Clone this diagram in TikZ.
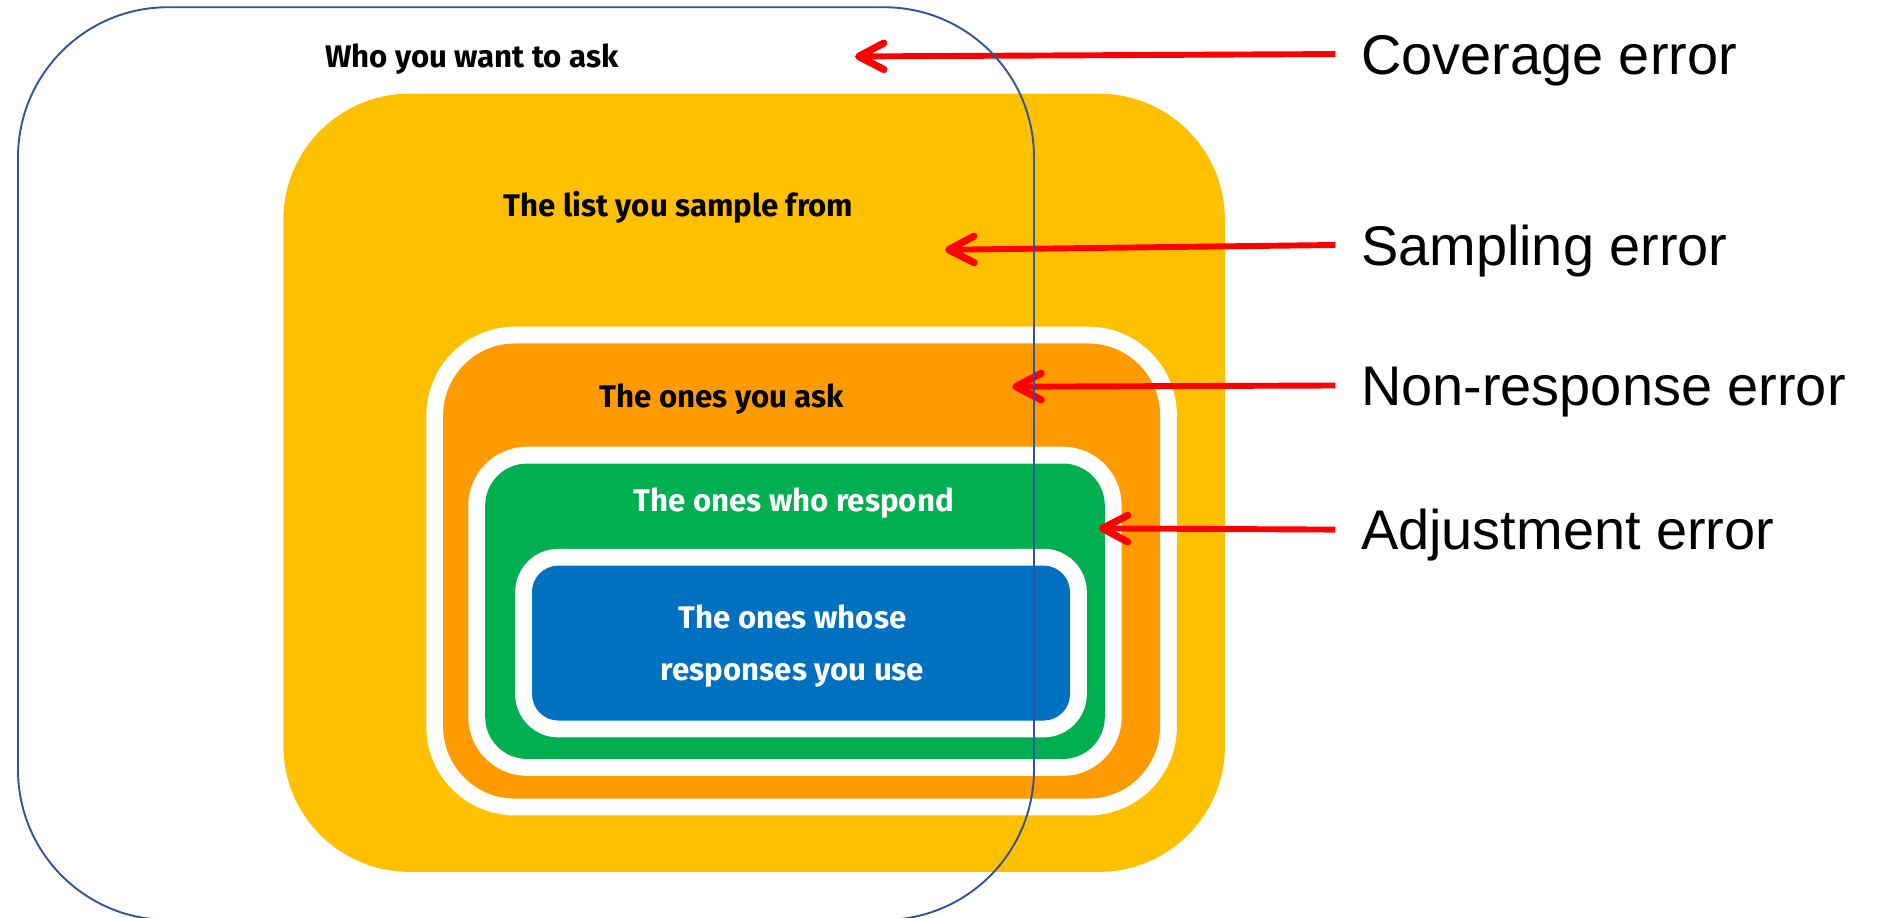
\documentclass[tikz,border=0pt]{standalone}
\usepackage{fontspec}
\setmainfont{Liberation Sans}
\newfontfamily\boxfont{Fira Sans}
\usetikzlibrary{arrows.meta}

\definecolor{frameblue}{HTML}{2F5597}
\definecolor{listyellow}{HTML}{FFC000}
\definecolor{askorange}{HTML}{FF9A00}
\definecolor{respgreen}{HTML}{00B050}
\definecolor{useblue}{HTML}{0070C0}
\definecolor{errred}{HTML}{FF0000}

\tikzset{
  boxlabel/.style={font=\boxfont\bfseries\fontsize{14.8}{24.4}\selectfont, align=center, inner sep=0pt},
  errlabel/.style={font=\fontsize{26.5}{30}\selectfont, anchor=west, inner xsep=0.42cm, inner ysep=0pt, text height=19pt, text depth=0pt},
  errarrow/.style={draw=errred, line width=2.8pt, -{Straight Barb[length=4.2mm,width=4.4mm,line width=3.4pt,round]}},
}

\begin{document}
\begin{tikzpicture}[x=0.02cm, y=-0.02cm]
		\useasboundingbox (0,0) rectangle (1568,764);
		\clip (0,0) rectangle (1568,764);
		% Define boxes
		\fill[listyellow, rounded corners=2.1cm] (236,78) rectangle (1020,726);
		\fill[white, rounded corners=1.48cm] (355,272) rectangle (980,679);
		\fill[askorange, rounded corners=1.2cm] (369,286) rectangle (966,665);
		\fill[white, rounded corners=0.98cm] (390,372) rectangle (934,646);
		\fill[respgreen, rounded corners=0.7cm] (404,386) rectangle (920,632);
		\fill[white, rounded corners=0.72cm] (429,457) rectangle (905,614);
		\fill[useblue, rounded corners=0.44cm] (443,471) rectangle (891,600);
		% Define box labels
		\node[boxlabel, anchor=base]	(want)	at (393,56)	{Who you want to ask};
		\node[boxlabel, anchor=base]	(list)	at (565,180)	{The list you sample from};
		\node[boxlabel, anchor=base]	(ask)	at (601,339)	{The ones you ask};
		\node[boxlabel, anchor=base, text=white]	(respond)	at (661,426)	{The ones who respond};
		\node[boxlabel, text=white]	(use)	at (660,538)	{The ones whose\\responses you use};
		% Define error labels
		\node[errlabel]	(coverage)	at (1112,45)	{Coverage error};
		\node[errlabel]	(sampling)	at (1112,204)	{Sampling error};
		\node[errlabel]	(nonresp)	at (1112,321)	{Non-response error};
		\node[errlabel]	(adjust)	at (1112,441)	{Adjustment error};
		\coordinate (covtip)	at (712,47);
		\coordinate (samtip)	at (787,208);
		\coordinate (nontip)	at (843,322);
		\coordinate (adjtip)	at (915,440);
		% Define edges
		\draw[errarrow] (coverage.west) -- (covtip);
		\draw[errarrow] (sampling.west) -- (samtip);
		\draw[errarrow] (nonresp.west) -- (nontip);
		\draw[errarrow] (adjust.west) -- (adjtip);
		% Frame on top
		\draw[frameblue, line width=0.9pt, rounded corners=2.5cm] (15,6) rectangle (861,766);
	\end{tikzpicture}
\end{document}
